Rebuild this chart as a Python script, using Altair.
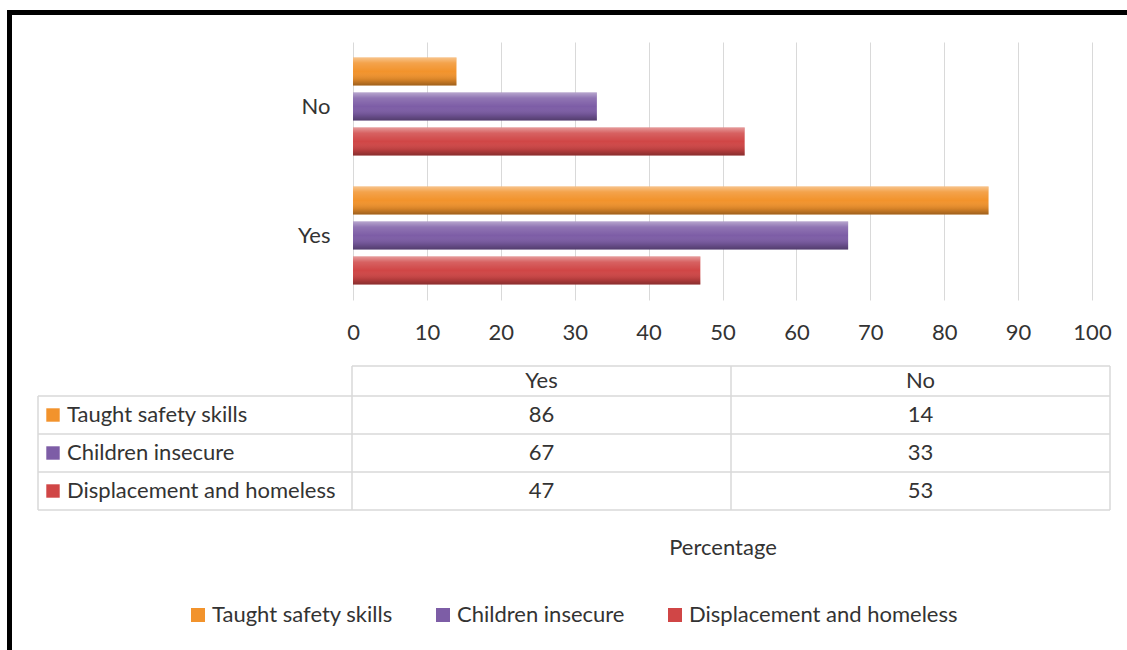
import altair as alt
import pandas as pd

# ---- data ----
answers = ["No", "Yes"]
series = ["Taught safety skills", "Children insecure", "Displacement and homeless"]
yes_values = [86, 67, 47]
no_values = [14, 33, 53]
colors = ["#F2932C", "#7D5DA6", "#D04646"]
x_ticks = [0, 10, 20, 30, 40, 50, 60, 70, 80, 90, 100]

rows = []
for s, yv, nv in zip(series, yes_values, no_values):
    rows.append({"series": s, "answer": "Yes", "value": yv})
    rows.append({"series": s, "answer": "No", "value": nv})
df = pd.DataFrame(rows)
series_df = pd.DataFrame({"series": series})
answer_df = pd.DataFrame({"answer": answers})
one = pd.DataFrame({"k": [0]})

FONT = "Lato"
TXT = "#333333"
GRID = "#D9D9D9"

legend = alt.Legend(
    orient="none", legendX=-166, legendY=562, direction="horizontal", title=None,
    symbolType="square", symbolSize=196, symbolStrokeWidth=0,
    labelFontSize=22, labelFont=FONT, labelColor=TXT, columnPadding=39, labelOffset=3,
    labelLimit=0,
)
color = alt.Color("series:N", scale=alt.Scale(domain=series, range=colors), legend=legend)

y_bar_scale = alt.Scale(domain=answers, paddingInner=0, paddingOuter=0)
yoff_scale = alt.Scale(domain=series, paddingInner=0.2, paddingOuter=0.44)
x_bar_scale = alt.Scale(domain=[0, 100], nice=False)

bars = alt.Chart(df).mark_bar(strokeWidth=0).encode(
    x=alt.X("value:Q", scale=x_bar_scale,
            axis=alt.Axis(values=x_ticks, grid=True, gridColor=GRID, domain=False, ticks=False,
                          labelFontSize=22, labelFont=FONT, labelColor=TXT, labelPadding=22,
                          labelFlush=False, labelOverlap=False, labelBound=False,
                          title="Percentage", titleFont=FONT, titleFontSize=22, titleFontWeight="normal",
                          titleColor=TXT, titleY=247, titleBaseline="middle")),
    y=alt.Y("answer:N", scale=y_bar_scale,
            axis=alt.Axis(title=None, domain=False, ticks=False, labelFontSize=22, labelFont=FONT,
                          labelColor=TXT, labelPadding=23)),
    yOffset=alt.YOffset("series:N", scale=yoff_scale),
    color=color,
)

bevel = alt.Chart(df).mark_bar(
    strokeWidth=0,
    color=alt.Gradient(
        gradient="linear", x1=0, y1=0, x2=0, y2=1,
        stops=[
            alt.GradientStop(color="rgba(255,255,255,0.45)", offset=0),
            alt.GradientStop(color="rgba(255,255,255,0.15)", offset=0.2),
            alt.GradientStop(color="rgba(255,255,255,0)", offset=0.5),
            alt.GradientStop(color="rgba(0,0,0,0.12)", offset=0.8),
            alt.GradientStop(color="rgba(0,0,0,0.35)", offset=1),
        ],
    ),
).encode(
    x=alt.X("value:Q", scale=x_bar_scale, axis=None),
    y=alt.Y("answer:N", scale=y_bar_scale, axis=None),
    yOffset=alt.YOffset("series:N", scale=yoff_scale),
)

# ---- data table ----
tx = alt.X("answer:N", scale=alt.Scale(type="point", domain=["Yes", "No"], range=[188.5, 567.5], padding=0), axis=None)
ty = alt.Y("series:N", scale=alt.Scale(type="point", domain=series, range=[373, 449], padding=0), axis=None)

table_vals = alt.Chart(df).mark_text(font=FONT, fontSize=22, color=TXT, baseline="middle").encode(
    x=tx, y=ty, text="value:Q")
table_head = alt.Chart(answer_df).mark_text(font=FONT, fontSize=22, color=TXT, baseline="middle").encode(
    x=tx, y=alt.value(339), text="answer:N")
table_labels = alt.Chart(series_df).mark_text(font=FONT, fontSize=22, color=TXT, baseline="middle", align="left").encode(
    x=alt.value(-286), y=ty, text="series:N")
table_swatch = alt.Chart(series_df).mark_point(shape="square", filled=True, size=180, opacity=1, strokeWidth=0).encode(
    x=alt.value(-300), y=ty, color=color)

rules = []
# horizontal table lines
for yv, x0 in [(324, -1), (354, -315), (392, -315), (430, -315), (468, -315)]:
    rules.append(alt.Chart(one).mark_rule(color=GRID, strokeWidth=1.5).encode(
        x=alt.value(x0), x2=alt.value(757), y=alt.value(yv)))
# vertical table lines
for xv, y0 in [(-315, 354), (-1, 324), (378, 324), (757, 324)]:
    rules.append(alt.Chart(one).mark_rule(color=GRID, strokeWidth=1.5).encode(
        x=alt.value(xv), y=alt.value(y0), y2=alt.value(468)))
# black frame (left and top)
rules.append(alt.Chart(one).mark_rule(color="black", strokeWidth=5).encode(
    x=alt.value(-343.5), y=alt.value(-32), y2=alt.value(620)))
rules.append(alt.Chart(one).mark_rule(color="black", strokeWidth=5).encode(
    x=alt.value(-346), x2=alt.value(790), y=alt.value(-29.5)))

chart = alt.layer(
    bars, bevel, table_vals, table_head, table_labels, table_swatch, *rules
).resolve_scale(
    x="independent", y="independent"
).properties(
    width=739, height=258,
    autosize=alt.AutoSizeParams(type="none"),
    padding={"left": 353, "top": 42, "right": 35, "bottom": 350},
    background="white",
).configure_view(stroke=None)

chart.save("out.html", embed_options={"renderer": "svg", "actions": False})
